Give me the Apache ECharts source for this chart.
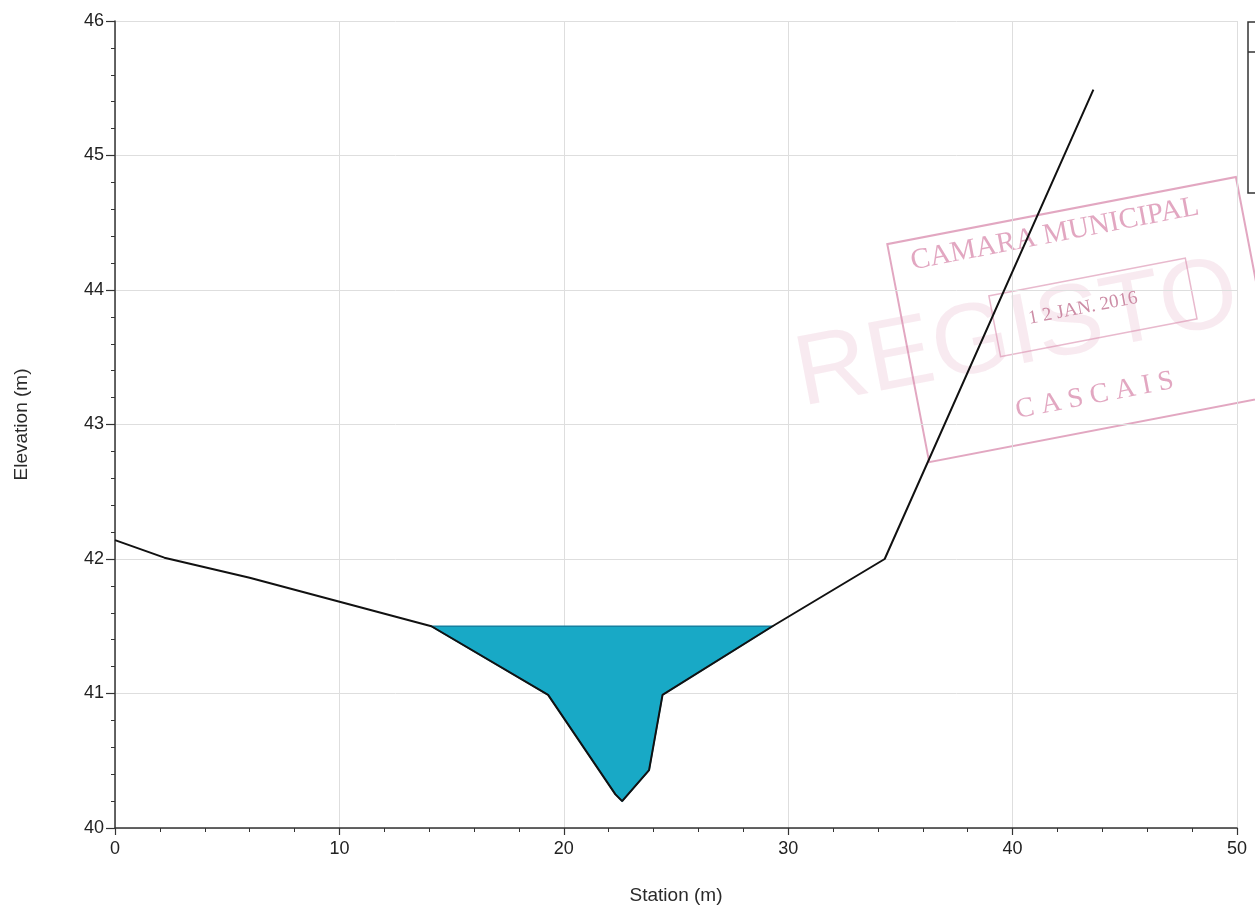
<!DOCTYPE html>
<html>
<head>
<meta charset="utf-8">
<script src="https://cdn.jsdelivr.net/npm/echarts@6/dist/echarts.min.js"></script>
<style>html,body{margin:0;padding:0;background:#fff}#c{width:1255px;height:913px}</style>
</head>
<body>
<div id="c"></div>
<script>
// Terrain cross-section (station m, elevation m)
var stations   = [0,     2.2,   6.0,   14.1, 19.3, 22.3,  22.6, 23.8,  24.4, 29.3, 34.3, 43.6];
var elevations = [42.14, 42.01, 41.86, 41.5, 40.99, 40.25, 40.2, 40.43, 40.99, 41.5, 42.0, 45.49];
// Water surface
var waterLevel = 41.5;
var waterStart = 14.1;
var waterEnd   = 29.3;
// Axis ranges / ticks
var xTicks = [0, 10, 20, 30, 40, 50];
var yTicks = [40, 41, 42, 43, 44, 45, 46];

var terrain = stations.map(function (s, i) { return [s, elevations[i]]; });
var waterPoly = terrain.filter(function (p) { return p[0] >= waterStart && p[0] <= waterEnd; });

var chart = echarts.init(document.getElementById('c'));
var pink = '#d88aac';
var font = '"Liberation Sans", Arial, sans-serif';

chart.setOption({
  backgroundColor: '#ffffff',
  animation: false,
  grid: { left: 115, top: 21, right: 18, bottom: 85 },
  xAxis: {
    type: 'value', min: xTicks[0], max: xTicks[xTicks.length - 1], interval: 10,
    name: 'Station (m)', nameLocation: 'middle', nameGap: 58,
    nameTextStyle: { fontFamily: font, fontSize: 19, color: '#2a2a2a' },
    axisLine: { show: true, lineStyle: { color: '#333', width: 1.5 } },
    axisTick: { show: true, length: 7, lineStyle: { color: '#333', width: 1.2 } },
    minorTick: { show: true, splitNumber: 5, length: 4, lineStyle: { color: '#333', width: 1 } },
    axisLabel: { fontFamily: font, fontSize: 18, color: '#222', margin: 12 },
    splitLine: { show: true, lineStyle: { color: '#dedede', width: 1 } }
  },
  yAxis: {
    type: 'value', min: yTicks[0], max: yTicks[yTicks.length - 1], interval: 1,
    name: 'Elevation (m)', nameLocation: 'middle', nameGap: 84, nameRotate: 90,
    nameTextStyle: { fontFamily: font, fontSize: 19, color: '#2a2a2a' },
    axisLine: { show: true, lineStyle: { color: '#333', width: 1.5 } },
    axisTick: { show: true, length: 9, lineStyle: { color: '#333', width: 1.2 } },
    minorTick: { show: true, splitNumber: 5, length: 4, lineStyle: { color: '#333', width: 1 } },
    axisLabel: { fontFamily: font, fontSize: 18, color: '#222', margin: 11 },
    splitLine: { show: true, lineStyle: { color: '#dedede', width: 1 } }
  },
  series: [
    {
      type: 'custom',
      data: [0],
      z: 1,
      renderItem: function (params, api) {
        var pts = [api.coord([waterStart, waterLevel])];
        waterPoly.forEach(function (p) { pts.push(api.coord(p)); });
        pts.push(api.coord([waterEnd, waterLevel]));
        return {
          type: 'polygon',
          shape: { points: pts },
          style: { fill: '#18a9c6', stroke: '#1580a0', lineWidth: 1.5 }
        };
      }
    },
    {
      type: 'line',
      data: terrain,
      z: 3,
      symbol: 'none',
      lineStyle: { color: '#111', width: 2 }
    }
  ],
  graphic: [
    {
      type: 'rect', z: 10,
      shape: { x: 1248, y: 22, width: 30, height: 171 },
      style: { fill: '#fff', stroke: '#333', lineWidth: 1.5 }
    },
    {
      type: 'line', z: 10,
      shape: { x1: 1248, y1: 52, x2: 1260, y2: 52 },
      style: { stroke: '#333', lineWidth: 1.5 }
    },
    {
      type: 'group', x: 1075, y: 320, rotation: 0.19, z: 0,
      children: [
        { type: 'rect', shape: { x: -170, y: -110, width: 355, height: 222 },
          style: { fill: 'none', stroke: pink, lineWidth: 2, opacity: 0.75 } },
        { type: 'text', x: -60, y: 5,
          style: { text: 'REGISTO', font: '100px "Liberation Sans", sans-serif', fill: pink, opacity: 0.18, align: 'center', verticalAlign: 'middle' } },
        { type: 'text', x: -150, y: -88,
          style: { text: 'CAMARA MUNICIPAL', font: '29px "Liberation Serif", serif', fill: pink, opacity: 0.75, align: 'left', verticalAlign: 'middle' } },
        { type: 'rect', shape: { x: -80, y: -40, width: 200, height: 62 },
          style: { fill: 'none', stroke: pink, lineWidth: 1.5, opacity: 0.6 } },
        { type: 'text', x: 10, y: -10,
          style: { text: '1 2 JAN. 2016', font: '19px "Liberation Serif", serif', fill: '#c07090', opacity: 0.8, align: 'center', verticalAlign: 'middle' } },
        { type: 'text', x: 5, y: 78,
          style: { text: 'C A S C A I S', font: '28px "Liberation Serif", serif', fill: pink, opacity: 0.75, align: 'center', verticalAlign: 'middle' } }
      ]
    }
  ]
});
</script>
</body>
</html>
